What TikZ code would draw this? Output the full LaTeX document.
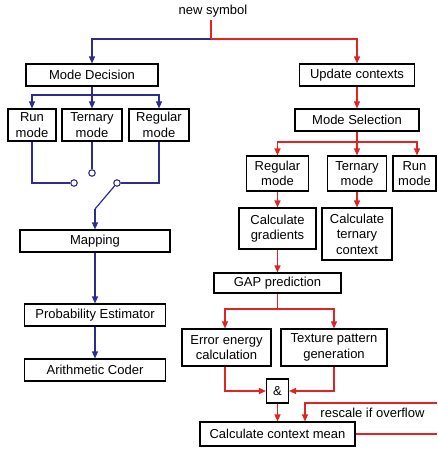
\documentclass[tikz,border=0pt]{standalone}
\usepackage{fontspec}
\setmainfont{Liberation Sans}
\usetikzlibrary{arrows.meta}
\definecolor{bl}{RGB}{45,45,145}
\definecolor{rd}{RGB}{225,35,35}
\begin{document}
\begin{tikzpicture}[x=1pt,y=-1pt,
  txt/.style={font=\fontsize{13}{15.5}\selectfont,inner sep=0pt,align=center},
  box/.style={txt,draw=black,line width=1.1pt,fill=white},
  bline/.style={draw=bl,line width=1.2pt},
  rline/.style={draw=rd,line width=1.2pt},
  arr/.style={-{Triangle[length=7pt,width=6pt]}},
  sw/.style={circle,draw=bl,line width=1.1pt,fill=white,inner sep=0pt,minimum size=6.5pt}]
\useasboundingbox (0,0) rectangle (437,450);

% ---------- top ----------
\node[txt] (ns) at (213,11) {new symbol};
\coordinate (nsb) at (211,20);
\coordinate (split) at (211,39);

% ---------- left (blue) ----------
\node[box,minimum width=132pt,minimum height=22pt] (md) at (92,75) {Mode Decision};
\node[box,minimum width=48pt,minimum height=32pt] (runL) at (32,125) {Run\\mode};
\node[box,minimum width=60pt,minimum height=32pt] (terL) at (92,125) {Ternary\\mode};
\node[box,minimum width=60pt,minimum height=32pt] (regL) at (159,125) {Regular\\mode};
\node[box,minimum width=150pt,minimum height=22pt] (map) at (95,241) {Mapping};
\node[box,minimum width=141pt,minimum height=22pt] (prob) at (95,315) {Probability Estimator};
\node[box,minimum width=141pt,minimum height=22pt] (arith) at (95,370) {Arithmetic Coder};

\node[sw] (c1) at (74,183) {};
\node[sw] (c2) at (92,173) {};
\node[sw] (c3) at (117,183) {};
\coordinate (mdj) at (92,95);
\coordinate (swk) at (95,209);

\draw[bline,arr] (split) -| (md.north);
\draw[bline] (md.south) -- (mdj);
\draw[bline,arr] (mdj) -| (runL.north);
\draw[bline,arr] (mdj) -- (terL.north);
\draw[bline,arr] (mdj) -| (regL.north);
\draw[bline] (runL.south) |- (c1.west);
\draw[bline] (terL.south) -- (c2.north);
\draw[bline] (regL.south) |- (c3.east);
\draw[bline] (c3) -- (swk);
\draw[bline,arr] (swk) -- (map.north);
\draw[bline,arr] (map.south) -- (prob.north);
\draw[bline,arr] (prob.south) -- (arith.north);

% ---------- right (red) ----------
\node[box,minimum width=115pt,minimum height=22pt] (uc) at (357,75) {Update contexts};
\node[box,minimum width=124pt,minimum height=22pt] (ms) at (357,120) {Mode Selection};
\node[box,minimum width=62pt,minimum height=35pt] (regR) at (277.5,173.5) {Regular\\mode};
\node[box,minimum width=59pt,minimum height=35pt] (terR) at (357,173.5) {Ternary\\mode};
\node[box,minimum width=43pt,minimum height=35pt] (runR) at (414.5,173.5) {Run\\mode};
\node[box,minimum width=77pt,minimum height=41pt] (grad) at (277.5,228.5) {Calculate\\gradients};
\node[box,minimum width=70pt,minimum height=52pt] (ctern) at (357,234) {Calculate\\ternary\\context};
\node[box,minimum width=127pt,minimum height=20pt] (gap) at (277.5,283) {GAP prediction};
\node[box,minimum width=89pt,minimum height=37pt] (err) at (226.5,347.5) {Error energy\\calculation};
\node[box,minimum width=106pt,minimum height=37pt] (tex) at (334,347.5) {Texture pattern\\generation};
\node[box,minimum width=22pt,minimum height=24pt] (amp) at (277.5,391) {\&};
\node[box,minimum width=155pt,minimum height=24pt] (mean) at (277.5,434) {Calculate context mean};
\node[txt] (resc) at (372.5,413) {rescale if overflow};

\coordinate (msj) at (357,142);
\coordinate (gj) at (277.5,309);
\coordinate (re1) at (437,403);
\coordinate (mo) at (437,434);

\draw[rline] (nsb) -- (split);
\draw[rline,arr] (split) -| (uc.north);
\draw[rline,arr] (uc.south) -- (ms.north);
\draw[rline] (ms.south) -- (msj);
\draw[rline,arr] (msj) -| (regR.north);
\draw[rline,arr] (msj) -- (terR.north);
\draw[rline,arr] (msj) -| ([xshift=2.5pt]runR.north);
\draw[rline,arr] (regR.south) -- (grad.north);
\draw[rline,arr] (terR.south) -- (ctern.north);
\draw[rline,arr] (grad.south) -- (gap.north);
\draw[rline] (gap.south) -- (gj);
\draw[rline,arr] (gj) -| ([xshift=-1.5pt]err.north);
\draw[rline,arr] (gj) -| (tex.north);
\draw[rline,arr] ([xshift=-1.5pt]err.south) |- (amp.west);
\draw[rline,arr] (tex.south) |- (amp.east);
\draw[rline,arr] (amp.south) -- (mean.north);
\draw[rline] (mean.east) -- (mo);
\draw[rline,arr] (re1) -| ([xshift=27.5pt]mean.north);
\end{tikzpicture}
\end{document}
